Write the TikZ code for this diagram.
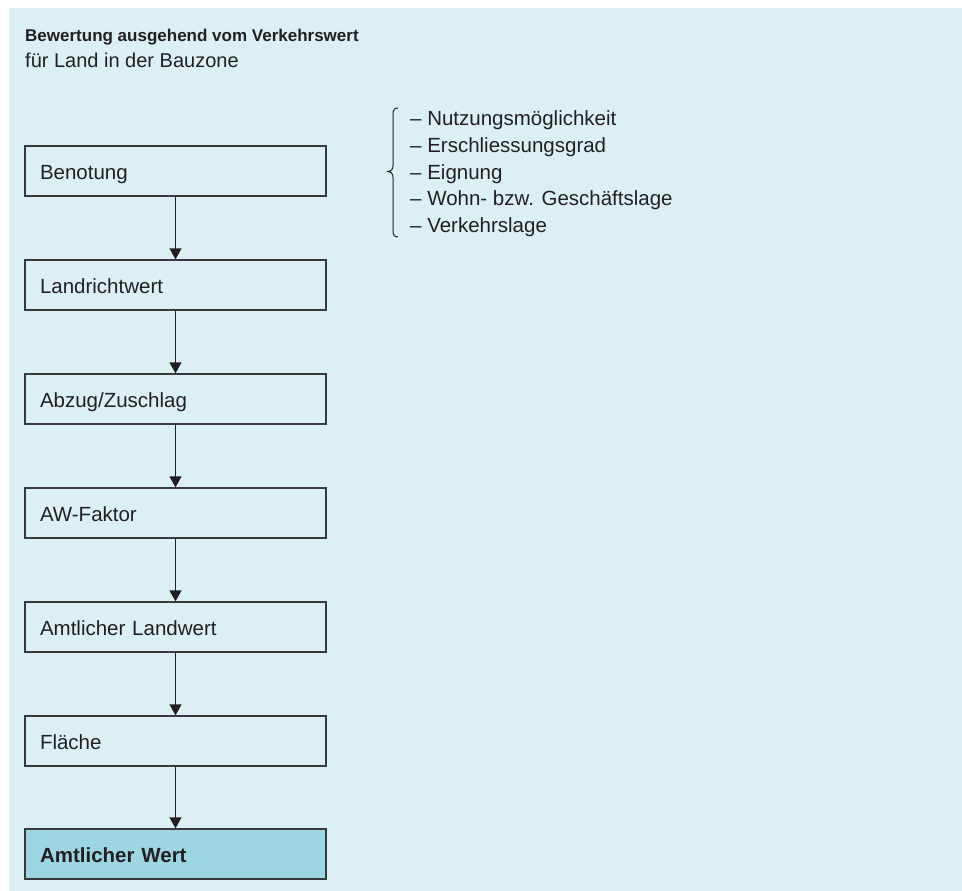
\documentclass[tikz,border=0pt]{standalone}
\usepackage{fontspec}
\setmainfont{Liberation Sans}
\usetikzlibrary{arrows.meta}
\definecolor{bgc}{HTML}{DCF0F4}
\definecolor{hilite}{HTML}{9BD6E2}
\definecolor{framec}{HTML}{3A3A3A}
\definecolor{txtc}{HTML}{231F20}
\tikzset{
  flowbox/.style={draw=framec, line width=1.3pt, rectangle, inner xsep=15pt, inner ysep=0pt,
    text width=271pt, minimum height=50pt, align=left, text height=18pt, text depth=2pt,
    font=\fontsize{20.5}{24}\selectfont, text=txtc},
  finalbox/.style={flowbox, fill=hilite, font=\fontsize{20.5}{24}\selectfont\bfseries},
  flowarrow/.style={draw=txtc, line width=1.3pt, -{Triangle[width=12pt,length=11pt]}},
  listitem/.style={anchor=base west, inner sep=0pt, font=\fontsize{20.5}{24}\selectfont, text=txtc},
}
\begin{document}
\begin{tikzpicture}[x=1pt,y=-1pt]
\useasboundingbox (0,0) rectangle (962,891);
\fill[bgc] (9,8) rectangle (962,891);
\node[anchor=base west, inner sep=0pt, text=txtc, font=\fontsize{17}{20}\selectfont\bfseries] (title) at (25,41.5) {Bewertung ausgehend vom Verkehrswert};
\node[anchor=base west, inner sep=0pt, text=txtc, font=\fontsize{20}{24}\selectfont] (subtitle) at (25,67.7) {für Land in der Bauzone};

\node[flowbox] (b1) at (175.5,171) {Benotung};
\node[flowbox] (b2) at (175.5,285) {Landrichtwert};
\node[flowbox] (b3) at (175.5,399) {Abzug/Zuschlag};
\node[flowbox] (b4) at (175.5,513) {AW-Faktor};
\node[flowbox] (b5) at (175.5,627) {Amtlicher Landwert};
\node[flowbox] (b6) at (175.5,741) {Fläche};
\node[finalbox] (b7) at (175.5,854) {Amtlicher Wert};

\draw[flowarrow] (b1.south) -- (b2.north);
\draw[flowarrow] (b2.south) -- (b3.north);
\draw[flowarrow] (b3.south) -- (b4.north);
\draw[flowarrow] (b4.south) -- (b5.north);
\draw[flowarrow] (b5.south) -- (b6.north);
\draw[flowarrow] (b6.south) -- (b7.north);

\draw[txtc, line width=1pt] (398,108) .. controls (394.5,108) and (393,110) .. (393,114) -- (393,165.5)
  .. controls (393,169) and (391.5,171) .. (388,171.5)
  .. controls (391.5,172) and (393,174) .. (393,177.5) -- (393,231)
  .. controls (393,235) and (394.5,237) .. (398,237);

\node[listitem] (l1) at (410,125) {– Nutzungsmöglichkeit};
\node[listitem] (l2) at (410,152) {– Erschliessungsgrad};
\node[listitem] (l3) at (410,179) {– Eignung};
\node[listitem] (l4) at (410,205.5) {– Wohn- bzw. Geschäftslage};
\node[listitem] (l5) at (410,232) {– Verkehrslage};
\end{tikzpicture}
\end{document}
